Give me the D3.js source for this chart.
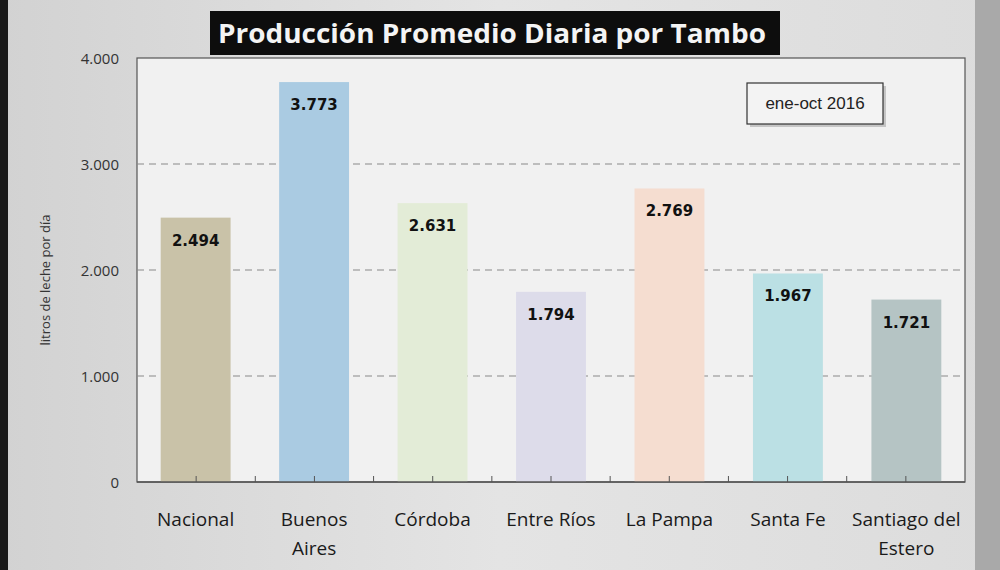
<!DOCTYPE html>
<html><head><meta charset="utf-8">
<script src="https://cdn.jsdelivr.net/npm/d3@7"></script>
<style>body{margin:0;background:#ddd;} svg{display:block;}</style>
</head><body>
<svg id="c" width="1000" height="570"></svg>
<script>
const categories = ["Nacional","Buenos Aires","Córdoba","Entre Ríos","La Pampa","Santa Fe","Santiago del Estero"];
const labelLines = [["Nacional"],["Buenos","Aires"],["Córdoba"],["Entre Ríos"],["La Pampa"],["Santa Fe"],["Santiago del","Estero"]];
const values = [2494,3773,2631,1794,2769,1967,1721];
const colors = ["#c9c2a8","#aacbe2","#e3ecd7","#dddcea","#f5ddd0","#bbe0e4","#b5c4c4"];
const yTicks = [0,1000,2000,3000,4000];
const titleText = "Producción Promedio Diaria por Tambo";
const legendText = "ene-oct 2016";
const yTitle = "litros de leche por día";

const svg = d3.select("#c");
const W=1000,H=570;
const m={l:137,r:35,t:58,b:88};
const loc = d3.formatLocale({decimal:",",thousands:".",grouping:[3],currency:["$",""]});
const fmt = loc.format(",d");

// background (photo of screen)
const defs=svg.append("defs");
const bg=defs.append("linearGradient").attr("id","bg").attr("x1","0").attr("x2","1");
bg.append("stop").attr("offset","0").attr("stop-color","#d2d2d2");
bg.append("stop").attr("offset","0.5").attr("stop-color","#e4e4e4");
bg.append("stop").attr("offset","1").attr("stop-color","#dcdcdc");
svg.append("rect").attr("width",W).attr("height",H).attr("fill","url(#bg)");
svg.append("rect").attr("x",0).attr("y",0).attr("width",8).attr("height",H).attr("fill","#1a1a1a");
svg.append("rect").attr("x",975).attr("y",0).attr("width",25).attr("height",H).attr("fill","#a9a9a9");

const x=d3.scaleBand().domain(categories).range([m.l,W-m.r]).paddingInner(0.41).paddingOuter(0.2);
const y=d3.scaleLinear().domain([0,4000]).range([H-m.b,m.t]);
const band=(W-m.r-m.l)/categories.length;

// plot area
svg.append("rect").attr("x",m.l).attr("y",m.t).attr("width",W-m.r-m.l).attr("height",y(0)-m.t)
  .attr("fill","#f1f1f1").attr("stroke","#555").attr("stroke-width",1.2);

// gridlines
svg.append("g").selectAll("line").data(yTicks.filter(d=>d>0&&d<4000)).join("line")
  .attr("x1",m.l).attr("x2",W-m.r).attr("y1",d=>y(d)).attr("y2",d=>y(d))
  .attr("stroke","#8a8a8a").attr("stroke-width",1.2).attr("stroke-dasharray","7,5");

// bars
svg.append("g").selectAll("rect").data(values).join("rect")
  .attr("x",(d,i)=>x(categories[i])).attr("width",x.bandwidth())
  .attr("y",d=>y(d)).attr("height",d=>y(0)-y(d))
  .attr("fill",(d,i)=>colors[i]);

// value labels
svg.append("g").selectAll("text").data(values).join("text")
  .attr("x",(d,i)=>x(categories[i])+x.bandwidth()/2).attr("y",d=>y(d)+28)
  .attr("text-anchor","middle").attr("font-family","'DejaVu Sans', sans-serif")
  .attr("font-weight","bold").attr("font-size",15).attr("fill","#111").text(d=>fmt(d));

// x axis line + ticks
svg.append("line").attr("x1",m.l).attr("x2",W-m.r).attr("y1",y(0)).attr("y2",y(0)).attr("stroke","#555").attr("stroke-width",1.5);
const tickPos=d3.range(0,categories.length*2+1).map(k=>m.l+k*band/2).filter(v=>v>m.l+5&&v<W-m.r-5);
svg.append("g").selectAll("line").data(tickPos).join("line")
  .attr("x1",d=>d).attr("x2",d=>d).attr("y1",y(0)).attr("y2",y(0)-6).attr("stroke","#555");

// y axis labels
svg.append("g").selectAll("text").data(yTicks).join("text")
  .attr("x",m.l-18).attr("y",d=>y(d)+6).attr("text-anchor","end")
  .attr("font-family","'Open Sans', sans-serif").attr("font-size",15).attr("fill","#333").text(d=>fmt(d));
svg.append("text").attr("transform",`translate(50,${(y(0)+m.t)/2+10}) rotate(-90)`)
  .attr("text-anchor","middle").attr("font-family","'Open Sans', sans-serif").attr("font-size",13).attr("fill","#333").text(yTitle);

// x labels
const xl=svg.append("g").selectAll("text").data(labelLines).join("text")
  .attr("x",(d,i)=>x(categories[i])+x.bandwidth()/2).attr("y",526).attr("text-anchor","middle")
  .attr("font-family","'Liberation Sans Narrow', 'Open Sans', sans-serif").attr("font-size",19).attr("fill","#1a1a1a");
xl.each(function(d){const t=d3.select(this);d.forEach((l,j)=>t.append("tspan").attr("x",t.attr("x")).attr("dy",j?29:0).text(l));});

// title
svg.append("rect").attr("x",210).attr("y",11).attr("width",570).attr("height",44).attr("fill","#0d0d0d");
svg.append("text").attr("x",492).attr("y",43).attr("text-anchor","middle")
  .attr("font-family","'Open Sans', sans-serif").attr("font-weight","bold").attr("font-size",27)
  .attr("textLength",548).attr("lengthAdjust","spacingAndGlyphs").attr("fill","#f4f4f4").text(titleText);

// legend box
svg.append("rect").attr("x",750).attr("y",86).attr("width",136).attr("height",41).attr("fill","#999").attr("opacity",0.5);
svg.append("rect").attr("x",747).attr("y",83).attr("width",136).attr("height",41).attr("fill","#f3f3f3").attr("stroke","#333").attr("stroke-width",1.2);
svg.append("text").attr("x",815).attr("y",109).attr("text-anchor","middle")
  .attr("font-family","'Liberation Sans Narrow', sans-serif").attr("font-size",17).attr("fill","#222").text(legendText);
</script>
</body></html>
